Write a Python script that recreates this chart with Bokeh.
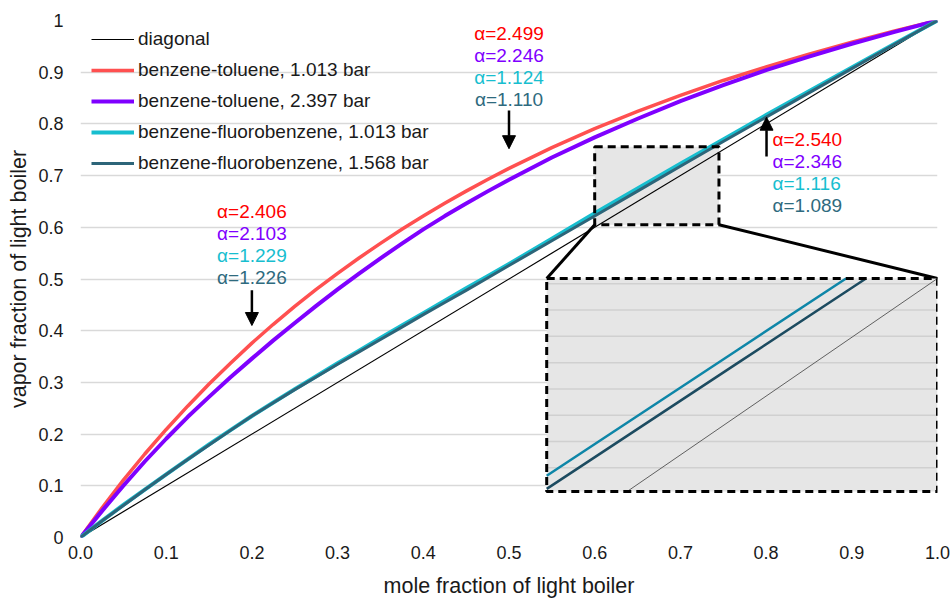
import numpy as np
from bokeh.plotting import figure
from bokeh.models import Arrow, NormalHead, Label, FixedTicker, Legend, LegendItem
from bokeh.embed import file_html
from bokeh.resources import INLINE

# ---------------- data ----------------
X = [0.0, 0.025, 0.05, 0.075, 0.1, 0.125, 0.15, 0.175, 0.2, 0.225, 0.25, 0.275, 0.3, 0.325,
     0.35, 0.375, 0.4, 0.425, 0.45, 0.475, 0.5,
     0.55, 0.6, 0.65, 0.7, 0.75, 0.8, 0.85, 0.9, 0.95, 1.0]
Y_BT_1013 = [0.0, 0.057, 0.111, 0.1615, 0.209, 0.254, 0.297, 0.337, 0.376, 0.4124, 0.447, 0.4798,
             0.511, 0.5407, 0.569, 0.5962, 0.622, 0.6466, 0.670, 0.6925, 0.714,
             0.754, 0.791, 0.824, 0.855, 0.884, 0.910, 0.935, 0.958, 0.980, 1.0]
Y_BT_2397 = [0.0, 0.051, 0.100, 0.147, 0.191, 0.233, 0.272, 0.310, 0.346, 0.3813, 0.415, 0.4481,
             0.480, 0.5106, 0.540, 0.5685, 0.596, 0.6217, 0.646, 0.6695, 0.692,
             0.735, 0.774, 0.810, 0.844, 0.875, 0.904, 0.930, 0.955, 0.978, 1.0]
Y_BF_1013 = [0.0, 0.0322, 0.063, 0.0928, 0.122, 0.1512, 0.180, 0.2078, 0.235, 0.261, 0.287, 0.312,
             0.337, 0.3615, 0.386, 0.410, 0.434, 0.458, 0.482, 0.5055, 0.529,
             0.578, 0.627, 0.675, 0.723, 0.770, 0.817, 0.863, 0.909, 0.955, 1.0]
Y_BF_1568 = [0.0, 0.0318, 0.062, 0.0922, 0.122, 0.1508, 0.179, 0.2072, 0.235, 0.2605, 0.286, 0.3105,
             0.335, 0.359, 0.383, 0.407, 0.431, 0.4545, 0.478, 0.502, 0.526,
             0.574, 0.622, 0.670, 0.718, 0.766, 0.813, 0.860, 0.907, 0.954, 1.0]
DIAG_X = [0.0, 1.0]
DIAG_Y = [0.0, 1.0]

SERIES_NAMES = ["benzene-toluene, 1.013 bar", "benzene-toluene, 2.397 bar",
                "benzene-fluorobenzene, 1.013 bar", "benzene-fluorobenzene, 1.568 bar"]

ALPHA_X = [0.2, 0.5, 0.8]
ALPHA_BT_1013 = [2.406, 2.499, 2.540]
ALPHA_BT_2397 = [2.103, 2.246, 2.346]
ALPHA_BF_1013 = [1.229, 1.124, 1.116]
ALPHA_BF_1568 = [1.226, 1.110, 1.089]

X_TICKS = [0.0, 0.1, 0.2, 0.3, 0.4, 0.5, 0.6, 0.7, 0.8, 0.9, 1.0]
X_TICK_LABELS = ["0.0", "0.1", "0.2", "0.3", "0.4", "0.5", "0.6", "0.7", "0.8", "0.9", "1.0"]
Y_TICKS = [0.0, 0.1, 0.2, 0.3, 0.4, 0.5, 0.6, 0.7, 0.8, 0.9, 1.0]
Y_TICK_LABELS = ["0", "0.1", "0.2", "0.3", "0.4", "0.5", "0.6", "0.7", "0.8", "0.9", "1"]
X_TITLE = "mole fraction of light boiler"
Y_TITLE = "vapor fraction of light boiler"

# zoom window (source box drawn on the chart, inset box and the inset's view window)
SRC_BOX = (0.6, 0.745, 0.605, 0.756)      # x0, x1, y0, y1
INSET_BOX = (0.544, 1.0, 0.089, 0.501)    # x0, x1, y0, y1
ZOOM_VIEW = (0.6, 0.702, 0.621, 0.702)    # x0, x1, y0, y1
ZOOM_GRID = [0.63, 0.64, 0.65, 0.66, 0.67, 0.68, 0.69, 0.70]

# ---------------- styles ----------------
FONT = "Liberation Sans"
LINE_COLORS = ["#FF5050", "#7F00FF", "#17BECF", "#2D6579"]
TEXT_COLORS = ["#FF0000", "#7F00FF", "#17BECF", "#2E6A7E"]
LINE_WIDTHS = [3.5, 4.0, 4.0, 3.0]
INSET_COLORS = {"bf1013": "#0E86A8", "bf1568": "#1C4B60", "diag": "#606060"}


def key(v):
    return int(v) if float(v).is_integer() else v


def clip_polyline(xs, ys, x0, x1, y0, y1):
    out_x, out_y = [], []
    for i in range(len(xs) - 1):
        ax, ay, bx, by = xs[i], ys[i], xs[i + 1], ys[i + 1]
        dx, dy = bx - ax, by - ay
        t0, t1, ok = 0.0, 1.0, True
        for pp, qq in ((-dx, ax - x0), (dx, x1 - ax), (-dy, ay - y0), (dy, y1 - ay)):
            if pp == 0:
                if qq < 0:
                    ok = False
                    break
            else:
                r = qq / pp
                if pp < 0:
                    t0 = max(t0, r)
                else:
                    t1 = min(t1, r)
        if not ok or t0 > t1:
            continue
        sx, sy = ax + t0 * dx, ay + t0 * dy
        ex, ey = ax + t1 * dx, ay + t1 * dy
        if not (out_x and abs(out_x[-1] - sx) < 1e-12 and abs(out_y[-1] - sy) < 1e-12):
            if out_x:
                out_x.append(np.nan)
                out_y.append(np.nan)
            out_x.append(sx)
            out_y.append(sy)
        out_x.append(ex)
        out_y.append(ey)
    return out_x, out_y


def to_inset(xs, ys):
    vx0, vx1, vy0, vy1 = ZOOM_VIEW
    bx0, bx1, by0, by1 = INSET_BOX
    cx, cy = clip_polyline(xs, ys, vx0, vx1, vy0, vy1)
    ix = [bx0 + (v - vx0) / (vx1 - vx0) * (bx1 - bx0) for v in cx]
    iy = [by0 + (v - vy0) / (vy1 - vy0) * (by1 - by0) for v in cy]
    return ix, iy


p = figure(width=952, height=600, x_range=(0, 1), y_range=(0, 1),
           output_backend="svg", toolbar_location=None,
           min_border_left=80, min_border_right=15, min_border_top=20, min_border_bottom=0)
p.outline_line_color = None
p.background_fill_color = "white"

# axes
for ax in (p.xaxis[0], p.yaxis[0]):
    ax.axis_line_color = None
    ax.major_tick_line_color = None
    ax.minor_tick_line_color = None
    ax.major_tick_in = 0
    ax.major_tick_out = 0
    ax.minor_tick_in = 0
    ax.minor_tick_out = 0
    ax.major_label_text_font = FONT
    ax.major_label_text_font_size = "18px"
    ax.major_label_text_color = "#1a1a1a"
    ax.axis_label_text_font = FONT
    ax.axis_label_text_font_size = "21.5px"
    ax.axis_label_text_font_style = "normal"
    ax.axis_label_text_color = "#1a1a1a"
p.xaxis.ticker = FixedTicker(ticks=X_TICKS)
p.yaxis.ticker = FixedTicker(ticks=Y_TICKS)
p.xaxis.major_label_overrides = {key(v): s for v, s in zip(X_TICKS, X_TICK_LABELS)}
p.yaxis.major_label_overrides = {key(v): s for v, s in zip(Y_TICKS, Y_TICK_LABELS)}
p.xaxis.axis_label = X_TITLE
p.yaxis.axis_label = Y_TITLE
p.xaxis.major_label_standoff = 8
p.xaxis.axis_label_standoff = 12
p.yaxis.major_label_standoff = 17
p.yaxis.axis_label_standoff = 4

p.xgrid.grid_line_color = None
p.ygrid.grid_line_color = "#D9D9D9"
p.ygrid.grid_line_width = 1.5

# source zoom box fill (below lines)
sx0, sx1, sy0, sy1 = SRC_BOX
p.quad(left=[sx0], right=[sx1], bottom=[sy0], top=[sy1],
       fill_color="#E6E6E6", line_color=None)

# main lines
r_diag = p.line(DIAG_X, DIAG_Y, line_color="black", line_width=1.2)
series = [Y_BT_1013, Y_BT_2397, Y_BF_1013, Y_BF_1568]
renderers = []
for ys, c, w in zip(series, LINE_COLORS, LINE_WIDTHS):
    renderers.append(p.line(X, ys, line_color=c, line_width=w, line_join="round"))

# source box border
p.quad(left=[sx0], right=[sx1], bottom=[sy0], top=[sy1],
       fill_color=None, line_color="black", line_width=3, line_dash="8 5")

# connectors
bx0, bx1, by0, by1 = INSET_BOX
p.segment(x0=[sx0, sx1], y0=[sy0, sy0], x1=[bx0, bx1], y1=[by1, by1],
          line_color="black", line_width=3)

# inset
p.quad(left=[bx0], right=[bx1], bottom=[by0], top=[by1],
       fill_color="#E6E6E6", line_color=None)
vx0, vx1, vy0, vy1 = ZOOM_VIEW
gy = [by0 + (g - vy0) / (vy1 - vy0) * (by1 - by0) for g in ZOOM_GRID]
p.segment(x0=[bx0] * len(gy), x1=[bx1] * len(gy), y0=gy, y1=gy,
          line_color="#D0D0D0", line_width=1.5)
ix, iy = to_inset(DIAG_X, DIAG_Y)
p.line(ix, iy, line_color=INSET_COLORS["diag"], line_width=1)
ix, iy = to_inset(X, Y_BF_1568)
p.line(ix, iy, line_color=INSET_COLORS["bf1568"], line_width=2.5)
ix, iy = to_inset(X, Y_BF_1013)
p.line(ix, iy, line_color=INSET_COLORS["bf1013"], line_width=2.5)
p.quad(left=[bx0], right=[bx1], bottom=[by0], top=[by1],
       fill_color=None, line_color="black", line_width=3, line_dash="8 5")

# legend
items = [LegendItem(label="diagonal", renderers=[r_diag])]
for name, r in zip(SERIES_NAMES, renderers):
    items.append(LegendItem(label=name, renderers=[r]))
legend = Legend(items=items, location=(2, 354))
legend.label_text_font = FONT
legend.label_text_font_size = "19px"
legend.label_text_color = "#1a1a1a"
legend.glyph_width = 43
legend.glyph_height = 20
legend.label_height = 20
legend.spacing = 9
legend.padding = 9
legend.margin = 0
legend.label_standoff = 4
legend.background_fill_alpha = 0
legend.border_line_alpha = 0
p.add_layout(legend)

# alpha annotations
alphas = [ALPHA_BT_1013, ALPHA_BT_2397, ALPHA_BF_1013, ALPHA_BF_1568]
STEP = 0.0425
groups = [  # x, top text y, align, arrow (x, y_start, y_end)
    (0.2, 0.6306, "center", (0.2, 0.478, 0.410)),
    (0.5, 0.9749, "center", (0.5, 0.826, 0.752)),
    (0.8075, 0.7698, "left", (0.8005, 0.737, 0.813)),
]
for gi, (gx, gy0, align, arr) in enumerate(groups):
    for si in range(4):
        p.add_layout(Label(x=gx, y=gy0 - si * STEP, text="α=%.3f" % alphas[si][gi],
                           text_align=align, text_baseline="middle",
                           text_font=FONT, text_font_size="19px",
                           text_color=TEXT_COLORS[si]))
    ax_, ys_, ye_ = arr
    p.add_layout(Arrow(end=NormalHead(size=13, fill_color="black", line_color="black"),
                       x_start=ax_, y_start=ys_, x_end=ax_, y_end=ye_,
                       line_color="black", line_width=2.5))

open("out.html", "w").write(file_html(p, INLINE))
